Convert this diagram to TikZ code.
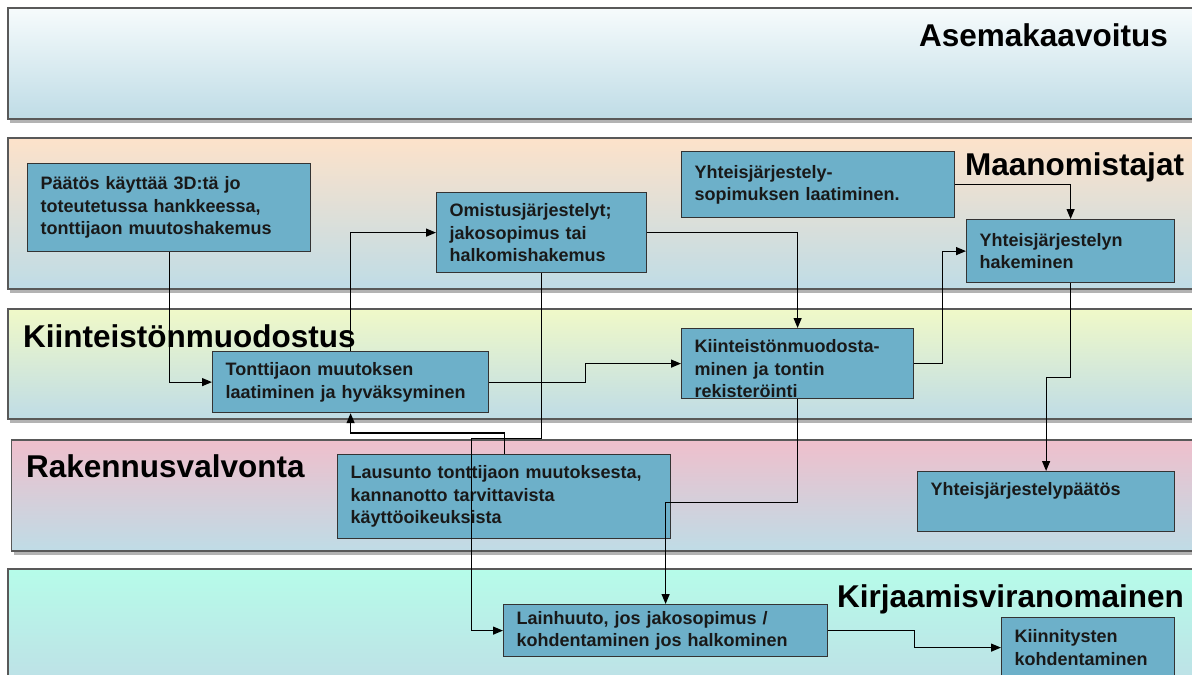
\documentclass[tikz,border=0pt]{standalone}
\usepackage{fontspec}
\setmainfont{Liberation Sans}
\usetikzlibrary{arrows.meta,shadows}
\definecolor{lanebot}{HTML}{BFDCE6}
\definecolor{asema}{HTML}{F6FBFC}
\definecolor{maan}{HTML}{FDE2CA}
\definecolor{kiint}{HTML}{F0F9C8}
\definecolor{raken}{HTML}{EFBFCC}
\definecolor{kirj}{HTML}{B6FCE9}
\definecolor{taskfill}{HTML}{6DB0C9}
\tikzset{
lane/.style={draw=black!65,line width=1.5pt,bottom color=lanebot,drop shadow={shadow xshift=2pt,shadow yshift=-4pt,opacity=.6}},
lanetitle/.style={font=\fontsize{31.5}{36}\selectfont\bfseries,inner sep=0pt},
task/.style 2 args={draw=black!80,line width=1.2pt,fill=taskfill,anchor=north west,align=left,minimum width=#1pt,minimum height=#2pt,text width=#1pt-26pt,inner xsep=13pt,inner ysep=0pt,font=\fontsize{18}{22.5}\selectfont\bfseries,text=black!90},
flow/.style={line width=1.2pt,-{Triangle[length=10pt,width=8pt]}}
}
\begin{document}
\begin{tikzpicture}[x=1pt,y=-1pt]
\useasboundingbox (0,0) rectangle (1192,675);
\clip (0,0) rectangle (1192,675);
\foreach \xl/\yt/\yb/\c in {8/8/119/asema,8/138/289/maan,8/309/419/kiint,11.5/440/551/raken,8/569/700/kirj}
  \draw[lane,top color=\c] (\xl,\yt) rectangle (1215,\yb);
\node[lanetitle,anchor=base east] (tasema) at (1168,46) {Asemakaavoitus};
\node[lanetitle,anchor=base west] (tmaan) at (965,175) {Maanomistajat};
\node[lanetitle,anchor=base west] (tkiint) at (23,347) {Kiinteistönmuodostus};
\node[lanetitle,anchor=base west] (traken) at (26,477) {Rakennusvalvonta};
\node[lanetitle,anchor=base east] (tkirj) at (1184,607) {Kirjaamisviranomainen};
\node[task={283}{88}] (paatos) at (27,163) {Päätös käyttää 3D:tä jo\\toteutetussa hankkeessa,\\tonttijaon muutoshakemus};
\node[task={210}{80}] (omist) at (436,192) {Omistusjärjestelyt;\\jakosopimus tai\\halkomishakemus};
\node[task={273}{66}] (ysop) at (681,151) {Yhteisjärjestely-\\sopimuksen laatiminen.};
\node[task={208}{63}] (yhak) at (966,219) {Yhteisjärjestelyn\\hakeminen};
\node[task={276}{61}] (tmuut) at (212,351) {Tonttijaon muutoksen\\laatiminen ja hyväksyminen};
\node[task={232}{70},text height=24pt,text depth=46pt] (kmuod) at (681,328) {Kiinteistönmuodosta-\\minen ja tontin\\rekisteröinti};
\node[task={333}{84}] (laus) at (337,454) {Lausunto tonttijaon muutoksesta,\\kannanotto tarvittavista\\käyttöoikeuksista};
\node[task={257}{60},text height=24pt,text depth=36pt] (ypaat) at (917,471) {Yhteisjärjestelypäätös};
\node[task={324}{52}] (lainh) at (503,604) {Lainhuuto, jos jakosopimus /\\kohdentaminen jos halkominen};
\node[task={173}{60}] (kiinn) at (1001,617) {Kiinnitysten\\kohdentaminen};
\draw[flow] (paatos.south) |- (tmuut.west);
\draw[flow] (tmuut.north) |- (omist.west);
\draw[flow] (omist.south) -- ++(0,165) -- ++(-70,0) |- (lainh.west);
\draw[flow] (laus.north) -- ++(0,-21) -| (tmuut.south);
\draw[flow] (tmuut.east) -- ++(96,0) |- (kmuod.west);
\draw[flow] (omist.east) -| (kmuod.north);
\draw[flow] (kmuod.east) -- ++(28,0) |- (yhak.west);
\draw[flow] (ysop.east) -| (yhak.north);
\draw[flow] (yhak.south) -- ++(0,94) -| (ypaat.north);
\draw[flow] (kmuod.south) -- ++(0,103) -| (lainh.north);
\draw[flow] (lainh.east) -- ++(86,0) |- (kiinn.west);
\end{tikzpicture}
\end{document}
